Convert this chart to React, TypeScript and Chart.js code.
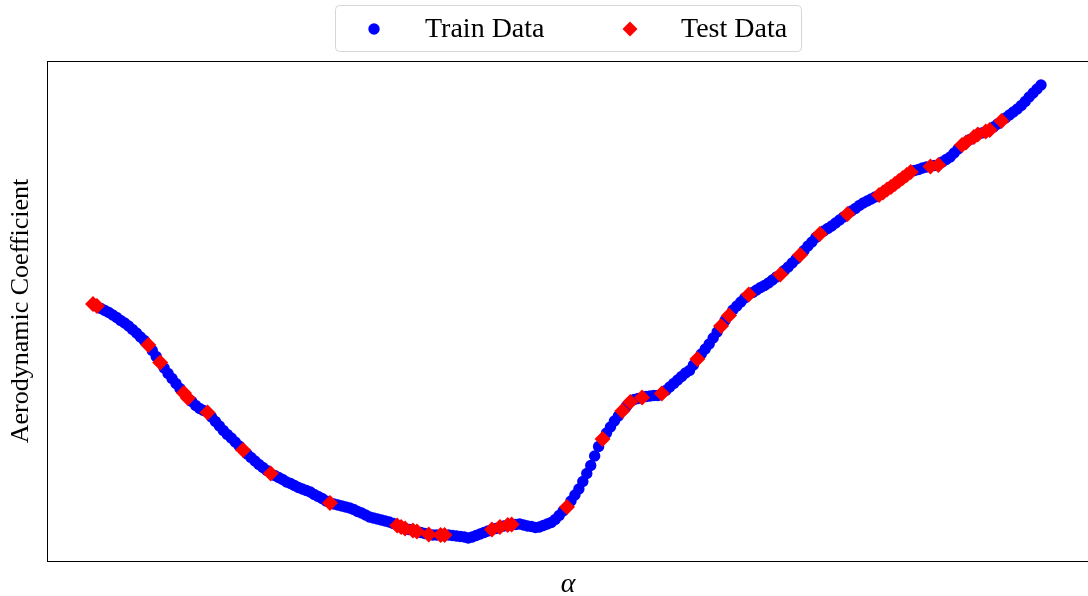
import { useEffect, useRef } from "react";
import { Chart, registerables } from "chart.js";

Chart.register(...registerables);

// Angle-of-attack sweep: first angle and spacing of the samples (degrees)
const ALPHA_START = -4;
const ALPHA_STEP = 0.1;

// Aerodynamic coefficient at each sample of the sweep
const COEFFICIENT = [
  0.514, 0.51, 0.505, 0.501, 0.497, 0.492, 0.487, 0.481, 0.476, 0.47,
  0.463, 0.456, 0.448, 0.441, 0.432, 0.421, 0.409, 0.397, 0.386, 0.375,
  0.365, 0.355, 0.345, 0.336, 0.326, 0.319, 0.311, 0.305, 0.301, 0.297,
  0.288, 0.279, 0.27, 0.261, 0.253, 0.246, 0.238, 0.23, 0.222, 0.214,
  0.207, 0.2, 0.193, 0.187, 0.181, 0.175, 0.171, 0.167, 0.163, 0.158,
  0.155, 0.151, 0.147, 0.144, 0.141, 0.138, 0.133, 0.129, 0.125, 0.12,
  0.116, 0.114, 0.112, 0.11, 0.108, 0.106, 0.103, 0.099, 0.096, 0.092,
  0.088, 0.086, 0.084, 0.082, 0.08, 0.078, 0.075, 0.071, 0.068, 0.065,
  0.063, 0.061, 0.059, 0.057, 0.055, 0.053, 0.052, 0.052, 0.052, 0.052,
  0.052, 0.051, 0.05, 0.049, 0.048, 0.046, 0.048, 0.051, 0.054, 0.057,
  0.06, 0.063, 0.065, 0.068, 0.07, 0.072, 0.073, 0.073, 0.074, 0.072,
  0.07, 0.069, 0.067, 0.068, 0.071, 0.074, 0.077, 0.083, 0.091, 0.1,
  0.108, 0.12, 0.132, 0.144, 0.159, 0.175, 0.191, 0.21, 0.229, 0.244,
  0.256, 0.268, 0.28, 0.29, 0.3, 0.309, 0.318, 0.323, 0.325, 0.327,
  0.329, 0.33, 0.331, 0.331, 0.335, 0.341, 0.348, 0.355, 0.362, 0.369,
  0.376, 0.381, 0.392, 0.404, 0.414, 0.424, 0.434, 0.446, 0.458, 0.47,
  0.481, 0.491, 0.502, 0.51, 0.518, 0.526, 0.533, 0.537, 0.542, 0.547,
  0.551, 0.556, 0.562, 0.568, 0.573, 0.581, 0.588, 0.596, 0.604, 0.612,
  0.621, 0.63, 0.638, 0.647, 0.654, 0.66, 0.665, 0.67, 0.676, 0.682,
  0.688, 0.694, 0.7, 0.705, 0.711, 0.716, 0.72, 0.724, 0.728, 0.732,
  0.737, 0.743, 0.748, 0.754, 0.76, 0.766, 0.772, 0.778, 0.781, 0.783,
  0.786, 0.788, 0.789, 0.791, 0.792, 0.798, 0.803, 0.808, 0.816, 0.824,
  0.832, 0.837, 0.843, 0.848, 0.853, 0.856, 0.859, 0.862, 0.868, 0.874,
  0.88, 0.886, 0.892, 0.898, 0.904, 0.911, 0.919, 0.928, 0.936, 0.944,
  0.952,
];

// Samples held out for testing (indices into the sweep); the rest are training samples
const TEST_INDEX = [
  0, 1, 14, 17, 23, 24, 29, 38, 45, 60,
  77, 78, 79, 81, 82, 85, 88, 89,
  101, 103, 105, 106, 120, 129, 134, 136, 139, 144,
  153, 159, 161, 166, 174, 179, 184, 191,
  199, 200, 201, 202, 203, 204, 205, 206, 207,
  212, 214, 220, 221, 223, 224, 226, 227, 230,
];

const SERIES_LABELS = ["Train Data", "Test Data"];
const X_TITLE = "α";
const Y_TITLE = "Aerodynamic Coefficient";
const X_LIMITS = [-5.165, 21.24];
const Y_LIMITS = [0, 1];

const TRAIN_COLOR = "#0000ff";
const TEST_COLOR = "#ff0000";
const SERIF = '"Liberation Serif", "DejaVu Serif", serif';

const CANVAS_W = 1092;
const CANVAS_H = 596;

function buildSeries() {
  const testSet = new Set(TEST_INDEX);
  const train: { x: number; y: number }[] = [];
  const test: { x: number; y: number }[] = [];
  COEFFICIENT.forEach((c, i) => {
    const alpha = Math.round((ALPHA_START + i * ALPHA_STEP) * 10) / 10;
    (testSet.has(i) ? test : train).push({ x: alpha, y: c });
  });
  return { train, test };
}

// Frame, axis titles and the boxed legend above the plot
const decorations = {
  id: "decorations",
  afterDraw(chart: Chart) {
    const { ctx, chartArea: a } = chart;
    ctx.save();

    ctx.strokeStyle = "#000000";
    ctx.lineWidth = 1;
    ctx.strokeRect(a.left + 0.5, a.top + 0.5, a.right - a.left, a.bottom - a.top);

    ctx.fillStyle = "#000000";
    ctx.font = `italic 28px ${SERIF}`;
    ctx.textAlign = "center";
    ctx.textBaseline = "alphabetic";
    ctx.fillText(X_TITLE, 568, 592);

    ctx.save();
    ctx.translate(21, (a.top + a.bottom) / 2);
    ctx.rotate(-Math.PI / 2);
    ctx.font = `26px ${SERIF}`;
    ctx.textAlign = "center";
    ctx.textBaseline = "middle";
    ctx.fillText(Y_TITLE, 0, 0);
    ctx.restore();

    // legend box
    const bx = 335.5, by = 5.5, bw = 466, bh = 46, r = 4;
    ctx.beginPath();
    ctx.moveTo(bx + r, by);
    ctx.lineTo(bx + bw - r, by);
    ctx.arcTo(bx + bw, by, bx + bw, by + r, r);
    ctx.lineTo(bx + bw, by + bh - r);
    ctx.arcTo(bx + bw, by + bh, bx + bw - r, by + bh, r);
    ctx.lineTo(bx + r, by + bh);
    ctx.arcTo(bx, by + bh, bx, by + bh - r, r);
    ctx.lineTo(bx, by + r);
    ctx.arcTo(bx, by, bx + r, by, r);
    ctx.closePath();
    ctx.fillStyle = "rgba(255,255,255,0.8)";
    ctx.fill();
    ctx.strokeStyle = "#d6d6d6";
    ctx.lineWidth = 1;
    ctx.stroke();

    ctx.fillStyle = TRAIN_COLOR;
    ctx.beginPath();
    ctx.arc(374, 29, 5.7, 0, Math.PI * 2);
    ctx.fill();

    ctx.fillStyle = TEST_COLOR;
    ctx.beginPath();
    ctx.moveTo(630 - 7.5, 29);
    ctx.lineTo(630, 29 - 7.5);
    ctx.lineTo(630 + 7.5, 29);
    ctx.lineTo(630, 29 + 7.5);
    ctx.closePath();
    ctx.fill();

    ctx.fillStyle = "#000000";
    ctx.font = `28px ${SERIF}`;
    ctx.textAlign = "left";
    ctx.textBaseline = "alphabetic";
    ctx.fillText(SERIES_LABELS[0], 425, 37);
    ctx.fillText(SERIES_LABELS[1], 681, 37);

    ctx.restore();
  },
};

export default function App() {
  const canvasRef = useRef<HTMLCanvasElement | null>(null);

  useEffect(() => {
    const canvas = canvasRef.current;
    if (!canvas) return;
    const { train, test } = buildSeries();
    const chart = new Chart(canvas, {
      type: "scatter",
      data: {
        datasets: [
          {
            label: SERIES_LABELS[0],
            data: train,
            order: 2,
            pointStyle: "circle",
            pointRadius: 5.7,
            pointBorderWidth: 0,
            backgroundColor: TRAIN_COLOR,
            borderColor: TRAIN_COLOR,
          },
          {
            label: SERIES_LABELS[1],
            data: test,
            order: 1,
            pointStyle: "rectRot",
            pointRadius: 8,
            pointBorderWidth: 0,
            backgroundColor: TEST_COLOR,
            borderColor: TEST_COLOR,
          },
        ],
      },
      options: {
        responsive: false,
        maintainAspectRatio: false,
        animation: false,
        events: [],
        layout: {
          autoPadding: false,
          padding: { left: 47, top: 61, right: 2, bottom: 35 },
        },
        plugins: { legend: { display: false }, tooltip: { enabled: false } },
        scales: {
          x: { type: "linear", display: false, min: X_LIMITS[0], max: X_LIMITS[1] },
          y: { type: "linear", display: false, min: Y_LIMITS[0], max: Y_LIMITS[1] },
        },
      },
      plugins: [decorations],
    });
    return () => chart.destroy();
  }, []);

  return (
    <div
      style={{
        position: "fixed",
        left: 0,
        top: 0,
        width: CANVAS_W,
        height: CANVAS_H,
        overflow: "hidden",
        background: "#ffffff",
      }}
    >
      <canvas
        ref={canvasRef}
        width={CANVAS_W}
        height={CANVAS_H}
        style={{ display: "block", width: CANVAS_W, height: CANVAS_H }}
      />
    </div>
  );
}
